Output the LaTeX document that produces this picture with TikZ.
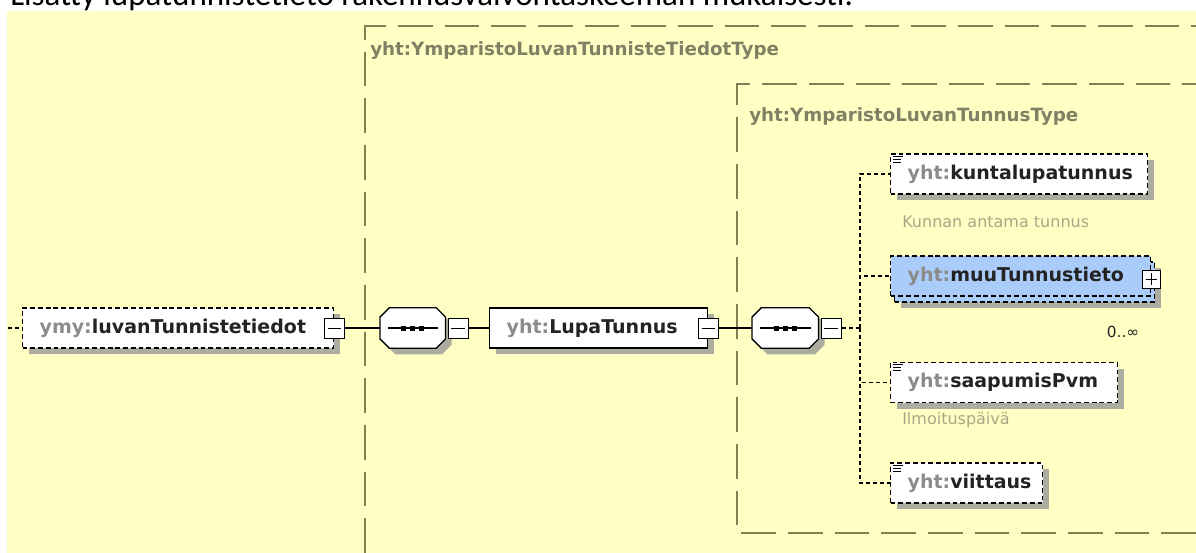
\documentclass[tikz,border=0pt]{standalone}
\usepackage{fontspec}
\setmainfont{DejaVu Sans}
\newfontfamily\docfont{Carlito}
\usetikzlibrary{positioning}
\usetikzlibrary{shadows}

\definecolor{bgyellow}{RGB}{255,255,196}
\definecolor{framecol}{RGB}{128,128,84}
\definecolor{typecol}{RGB}{128,128,100}
\definecolor{prefixgray}{RGB}{140,140,140}
\definecolor{namedark}{RGB}{35,35,35}
\definecolor{shadowgray}{RGB}{172,172,160}
\definecolor{optblue}{RGB}{170,204,250}
\definecolor{notecol}{RGB}{168,168,135}

\newcommand{\qname}[2]{\mbox{\textcolor{prefixgray}{#1:}\textcolor{namedark}{#2}}}

\tikzset{
 doctext/.style={anchor=base west, inner sep=0pt, font=\docfont\fontsize{24.75pt}{30pt}\selectfont},
 typeframe/.style={draw=framecol, line width=1.1pt, dash pattern=on 26pt off 9pt},
 typelabel/.style={anchor=west, inner sep=0pt, text=typecol, font=\fontsize{13.7pt}{16pt}\selectfont\bfseries},
 elembox/.style={anchor=west, draw=black, line width=1pt, dash pattern=on 3.6pt off 2.2pt, fill=white,
   minimum height=30pt, inner xsep=12.75pt, inner ysep=0pt, text width=#1, align=left,
   font=\fontsize{14.25pt}{16pt}\selectfont\bfseries},
 withshadow/.style={drop shadow={shadow xshift=4.5pt, shadow yshift=-4.5pt, fill=shadowgray, opacity=1}},
 minusbox/.style={draw=black, solid, fill=white, line width=0.75pt, minimum size=15pt, inner sep=0pt,
   path picture={\draw[line width=0.75pt] ([xshift=2.5pt]path picture bounding box.west) -- ([xshift=-2.5pt]path picture bounding box.east);}},
 plusbox/.style={minusbox, minimum size=13.5pt,
   path picture={\draw[line width=0.75pt] ([xshift=2.5pt]path picture bounding box.west) -- ([xshift=-2.5pt]path picture bounding box.east);
     \draw[line width=0.75pt] ([yshift=-2.5pt]path picture bounding box.north) -- ([yshift=2.5pt]path picture bounding box.south);}},
 seqspot/.style={anchor=west, minimum width=#1, minimum height=30pt, inner sep=0pt},
 seqframe/.style={fill=white, draw=black, line width=1pt},
 link/.style={draw=black, line width=1pt},
 optlink/.style={draw=black, line width=1pt, dash pattern=on 3pt off 2.25pt},
 iconline/.style={draw=black, line width=0.8pt},
 notetext/.style={anchor=west, inner sep=0pt, text=notecol, font=\fontsize{12pt}{14pt}\selectfont},
 occurs/.style={inner sep=0pt, text=namedark, font=\fontsize{11.5pt}{14pt}\selectfont}
}

\begin{document}
\begin{tikzpicture}[x=0.75pt,y=-0.75pt]
 \useasboundingbox (0,0) rectangle (1196,553);
 \fill[white] (0,0) rectangle (1196,553);
 \fill[bgyellow] (7,11) rectangle (1196,553);
 \clip (0,0) rectangle (1196,553);
 \node[doctext] (doctitle) at (10,5.5) {Lisätty lupatunnistetieto rakennusvalvontaskeeman mukaisesti.};

 % type frames
 \draw[typeframe] (365,553) -- (365,26) -- (1196,26);
 \draw[typeframe] (1196,533) -- (737,533) -- (737,84) -- (1196,84);
 \node[typelabel] (outertype) at (370,51) {yht:YmparistoLuvanTunnisteTiedotType};
 \node[typelabel] (innertype) at (749,117) {yht:YmparistoLuvanTunnusType};

 % main row
 \node[elembox=207.75pt, withshadow] (luvan) at (22,328) {\qname{ymy}{luvanTunnistetiedot}};
 \node[minusbox] (luvanm) at (luvan.east) {};
 \node[elembox=138pt, solid, withshadow] (lupa) at (489,328) {\qname{yht}{LupaTunnus}};
 \node[minusbox] (lupam) at (lupa.east) {};
 \node[seqspot=48.75pt] (seqa) at (380,328) {};
 \node[seqspot=49.5pt] (seqb) at (752,328) {};
 \foreach \s in {seqa,seqb}{
  \fill[shadowgray, transform canvas={shift={(4.5pt,-4.5pt)}}] ([xshift=7pt]\s.north west) -- ([xshift=-7pt]\s.north east) -- ([yshift=-7pt]\s.north east) -- ([yshift=7pt]\s.south east) -- ([xshift=-7pt]\s.south east) -- ([xshift=7pt]\s.south west) -- ([yshift=7pt]\s.south west) -- ([yshift=-7pt]\s.north west) -- cycle;
  \filldraw[seqframe] ([xshift=7pt]\s.north west) -- ([xshift=-7pt]\s.north east) -- ([yshift=-7pt]\s.north east) -- ([yshift=7pt]\s.south east) -- ([xshift=-7pt]\s.south east) -- ([xshift=7pt]\s.south west) -- ([yshift=7pt]\s.south west) -- ([yshift=-7pt]\s.north west) -- cycle;
  \draw[link] ([xshift=6pt]\s.west) -- ([xshift=-6pt]\s.east);
  \foreach \d in {-9,0,9} \fill ([xshift=\d*0.75pt]\s.center) +(-2.5,-2.5) rectangle +(2.5,2.5);
 }
 \node[minusbox, anchor=west] (seqam) at ([xshift=1.5pt]seqa.east) {};
 \node[minusbox, anchor=west] (seqbm) at ([xshift=1.5pt]seqb.east) {};

 % children
 \coordinate (bus) at (860,328);
 \coordinate (entry) at (8,328);
 \node[elembox=167.25pt, withshadow] (kunta) at (890,174) {\qname{yht}{kuntalupatunnus}};
 \node[elembox=169.5pt, fill=optblue, withshadow] (muuback) at (894,282) {};
 \node[elembox=169.5pt, fill=optblue] (muu) at (890,276) {\qname{yht}{muuTunnustieto}};
 \node[plusbox] (muup) at ([yshift=-2.25pt]muu.east) {};
 \node[elembox=144.75pt, withshadow] (saap) at (890,382.5) {\qname{yht}{saapumisPvm}};
 \node[elembox=88.5pt, withshadow] (viitt) at (890,483) {\qname{yht}{viittaus}};
 \foreach \e in {kunta,saap,viitt}
  \foreach \k/\l in {0/10,3/8,6/8}
   \draw[iconline] ([shift={(3,3+\k)}]\e.north west) -- ++(\l,0);
 \node[notetext] (kuntanote) at (902,222) {Kunnan antama tunnus};
 \node[notetext] (saapnote) at (902,420) {Ilmoituspäivä};
 \node[occurs] (muuocc) at (1123,332) {0..∞};

 % connectors
 \draw[optlink] (entry) -- (luvan.west);
 \draw[link] (luvanm.east) -- (seqa.west);
 \draw[link] (seqam.east) -- (lupa.west);
 \draw[link] (lupam.east) -- (seqb.west);
 \draw[optlink] (seqbm.east) -- (bus);
 \foreach \e in {kunta,muu,saap,viitt} \draw[optlink] (bus) |- (\e.west);
\end{tikzpicture}
\end{document}
